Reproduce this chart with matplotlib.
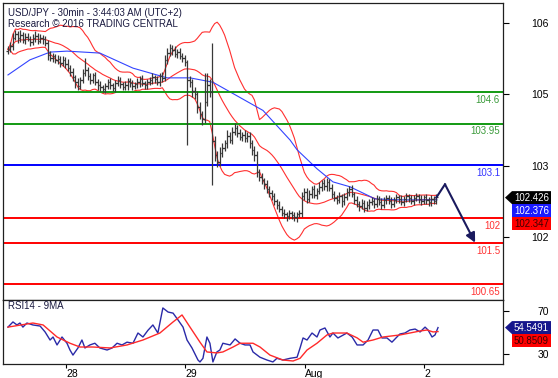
import matplotlib
matplotlib.use('Agg')
import matplotlib.pyplot as plt
from matplotlib.patches import Polygon
from matplotlib.transforms import blended_transform_factory
import numpy as np
import pandas as pd

plt.rcParams['font.family'] = ['Liberation Sans', 'DejaVu Sans']

# 30 min closes, USD/JPY
closes = [
    105.48, 105.55, 105.72, 105.80,
    105.70, 105.78, 105.66, 105.74, 105.69, 105.62, 105.71, 105.76, 105.65, 105.72, 105.68, 105.60,
    105.36,
    105.30, 105.34, 105.25, 105.28, 105.20, 105.26, 105.18, 105.10,
    105.02, 104.90, 104.80, 104.72,
    104.85, 104.98, 105.05,
    104.92, 104.85, 104.95, 104.80, 104.75,
    104.70, 104.66, 104.72, 104.80, 104.74, 104.68, 104.78, 104.84, 104.76, 104.70,
    104.74, 104.82, 104.78, 104.72, 104.76, 104.80, 104.86, 104.78, 104.74, 104.80,
    104.84, 104.90, 104.86, 104.80, 104.92, 104.88,
    105.25, 105.40, 105.50, 105.46, 105.38, 105.42, 105.34, 105.30, 105.22,
    104.85,
    104.80, 104.62, 104.55,
    104.30, 104.15, 104.05,
    104.40, 104.75, 104.60, 103.60,
    103.30, 103.15, 103.35, 103.45,
    103.55, 103.70, 103.62, 103.78,
    103.85,
    103.75, 103.68, 103.72, 103.65, 103.70,
    103.55, 103.40, 103.30,
    102.95,
    102.85, 102.78, 102.70, 102.60, 102.52, 102.45,
    102.35, 102.28, 102.20, 102.12, 102.08, 102.04, 102.10, 102.06, 102.02, 102.08,
    102.10,
    102.45, 102.55, 102.40, 102.50, 102.60, 102.48, 102.56,
    102.65, 102.72, 102.66, 102.75, 102.62,
    102.50, 102.42, 102.38, 102.46, 102.35, 102.44,
    102.55, 102.60, 102.50,
    102.38, 102.30, 102.25, 102.32, 102.22, 102.28, 102.34,
    102.36, 102.30, 102.40, 102.33, 102.28, 102.38, 102.42, 102.35, 102.30, 102.38,
    102.44, 102.40, 102.34, 102.39, 102.45, 102.41, 102.36, 102.42, 102.46, 102.40,
    102.35, 102.43, 102.38, 102.33, 102.40, 102.36, 102.43,
]
first_open = 105.45
# wicks above / below the body, in hundredths of a yen
up_wick = [
    6, 8, 10, 7, 6, 9, 5, 8, 7, 6, 8, 10, 6, 7, 5, 8, 6, 9, 7, 5,
    8, 6, 7, 5, 9, 6, 7, 5, 8, 6, 10, 25, 6, 8, 5, 7, 6, 8, 5, 7,
    6, 8, 5, 7, 9, 6, 5, 8, 7, 6, 7, 5, 8, 6, 9, 5, 7, 6, 8, 5,
    7, 6, 9, 12, 10, 8, 6, 9, 7, 8, 6, 5, 3, 8, 6, 9, 7, 10, 6, 59,
    24, 12, 100, 10, 8, 12, 9, 7, 11, 8, 9, 11, 7, 8, 6, 9, 7, 8, 6, 9,
    8, 7, 9, 6, 8, 7, 6, 8, 5, 7, 6, 8, 5, 7, 6, 8, 5, 7, 10, 8,
    7, 9, 6, 8, 7, 9, 6, 8, 7, 6, 8, 7, 6, 9, 5, 8, 7, 6, 8, 5,
    7, 6, 8, 5, 7, 6, 8, 6, 7, 5, 8, 6, 7, 5, 9, 6, 7, 5, 8, 6,
    7, 5, 8, 6, 7, 5, 8, 6, 7, 5, 8, 6, 7,
]
dn_wick = [
    7, 5, 8, 6, 9, 7, 6, 8, 5, 7, 6, 8, 7, 5, 9, 6, 10, 7, 8, 6,
    7, 9, 6, 8, 7, 10, 8, 12, 9, 6, 7, 6, 8, 9, 7, 6, 10, 8, 7, 9,
    6, 8, 7, 9, 6, 8, 7, 6, 9, 7, 8, 6, 7, 9, 6, 8, 7, 6, 8, 7,
    6, 8, 7, 6, 8, 7, 9, 6, 8, 7, 9, 8, 134, 10, 12, 9, 14, 10, 12, 8,
    9, 10, 91, 12, 10, 8, 9, 7, 10, 8, 9, 7, 8, 6, 9, 7, 8, 10, 9, 12,
    10, 9, 8, 10, 7, 9, 8, 7, 9, 6, 8, 7, 9, 6, 8, 7, 9, 6, 8, 7,
    9, 6, 8, 7, 9, 6, 8, 7, 9, 6, 8, 7, 9, 6, 11, 8, 7, 9, 6, 8,
    7, 9, 6, 8, 7, 9, 6, 8, 7, 6, 8, 7, 9, 6, 8, 7, 6, 9, 7, 8,
    6, 8, 7, 9, 6, 8, 7, 6, 9, 7, 8, 6, 7,
]

# blue moving average (bar index, price)
ma_bar = [0, 8.8, 16.9, 23.7, 36.9, 50.2, 63.9, 73.1, 82.3, 92.0, 102.4, 113.3,
          116.1, 124.1, 130.5, 137.3, 144.2, 147.4, 157.4, 172.3]
ma_val = [104.95, 105.26, 105.42, 105.44, 105.40, 105.09, 104.89, 104.89, 104.80, 104.52,
          104.22, 103.61, 103.41, 103.02, 102.75, 102.65, 102.48, 102.40, 102.38, 102.38]

# RSI14 and its 9MA (bar index, value)
rsi_bar = [0, 2.0, 3.6, 4.8, 6.0, 7.6, 10.0, 12.9, 14.9, 16.9, 18.1, 19.7, 21.7, 23.7,
           24.9, 26.1, 28.1, 29.7, 30.9, 32.9, 34.9, 36.9, 39.8, 41.8, 43.8, 45.8, 47.8,
           50.2, 52.2, 54.2, 56.2, 58.2, 60.2, 62.2, 64.3, 66.3, 68.3, 70.3, 71.9, 73.9,
           76.3, 77.1, 78.3, 79.9, 81.1, 82.3, 83.9, 85.1, 86.3, 89.2, 91.2, 93.2, 95.2,
           97.2, 98.4, 101.2, 104.0, 106.4, 108.0, 110.4, 113.3, 116.1, 117.3, 118.5,
           120.1, 122.1, 124.1, 125.3, 127.3, 129.3, 130.5, 132.5, 136.1, 138.2, 140.2,
           142.6, 144.6, 146.6, 148.6, 150.2, 152.2, 154.2, 156.2, 157.4, 159.4, 161.4,
           163.5, 165.5, 167.5, 168.7, 170.3, 171.5, 172.7]
rsi_val = [55, 59.8, 57, 58.8, 55, 58.8, 57, 56, 50.5, 43, 45.8, 38.4, 45.8, 40,
           33.7, 29, 35.6, 43, 35.6, 38.4, 40, 35.6, 33.7, 35.6, 40, 38.4, 41,
           40, 49.5, 45.8, 52, 57, 49.5, 72.8, 69, 68, 61.6, 55, 43, 35.6,
           24.4, 22.6, 26, 45.8, 40, 22.6, 31.9, 33.7, 40, 38.4, 44, 40, 38.4,
           38.4, 31.9, 27, 24.4, 22.6, 26, 24.4, 26, 27, 35.6, 44.9,
           43, 49.5, 45.8, 52.3, 54.2, 45.8, 49.5, 44.9, 49.5, 45.8, 38.4,
           38.4, 43, 52.3, 52.3, 44.9, 44.9, 41, 45.8, 48.6, 49.5, 52.3,
           53.2, 50.5, 55, 52.3, 45.8, 47.7, 54.55]
rsi_ma_bar = [0, 10.0, 14.1, 19.7, 24.9, 28.9, 34.1, 41.0, 47.8, 54.2, 61.0, 66.3, 69.9,
              73.1, 77.1, 79.9, 83.9, 86.3, 90.4, 93.2, 98.4, 101.2, 105.2, 110.4, 114.5,
              117.3, 120.1, 124.1, 128.1, 130.5, 136.1, 140.2, 142.6, 146.6, 150.6, 157.4,
              161.4, 165.5, 168.3, 170.7, 172.7]
rsi_ma_val = [55, 58.8, 57, 45.8, 40, 36.5, 36.5, 35.6, 38.4, 43, 49.5, 59.8, 66.3,
              55, 41, 31.9, 31, 31.9, 36.5, 40, 40, 36.5, 29, 24.4, 23.5,
              26, 33.7, 40, 47.7, 49.5, 49.5, 45, 41, 43, 45.8, 47.7,
              49.5, 51.4, 52.3, 50.5, 50.85]

resistances = [104.6, 103.95]
pivot = 103.1
supports = [102.0, 101.5, 100.65]
price_ticks = [106.02, 104.55, 103.08, 101.61]
price_tick_labels = ['106', '105', '103', '102']
day_ticks = [23.3, 71.2, 119.1, 167.1]
day_labels = ['28', '29', 'Aug', '2']
forecast_x = [172, 175.5, 187.6]
forecast_y = [102.426, 102.70, 101.5]
price_tags = ['102.426', '102.376', '102.347']
rsi_tags = ['54.5491', '50.8509']
rsi_ticks = [70, 30]

s = pd.Series(closes)
n = len(s)
x = np.arange(n)
opens = np.r_[first_open, s.values[:-1]]
highs = np.maximum(opens, s.values) + np.array(up_wick) / 100
lows = np.minimum(opens, s.values) - np.array(dn_wick) / 100

# bollinger 20 / 2
mid = s.rolling(20, min_periods=1).mean()
sd = s.rolling(20, min_periods=1).std(ddof=0).fillna(0)

W, H = 558, 378
fig = plt.figure(figsize=(W / 100, H / 100), dpi=100)
ax = fig.add_axes([3 / W, 1 - 300 / H, 500 / W, 297 / H])
ax2 = fig.add_axes([3 / W, 1 - 364 / H, 500 / W, 64 / H], sharex=ax)

ax.plot(x, mid + 2 * sd, color='#ff3030', lw=0.8)
ax.plot(x, mid - 2 * sd, color='#ff3030', lw=0.8)
ax.plot(x, mid, color='#ff3030', lw=0.8)
ax.plot(ma_bar, ma_val, color='#3344ff', lw=0.8)

# levels
ytr = blended_transform_factory(ax.transAxes, ax.transData)
for lv in resistances:
    ax.axhline(lv, color='#129a12', lw=1.4)
    ax.text(0.994, lv - 0.06, f'{lv:g}', color='#3a9a3a', fontsize=7, ha='right', va='top', transform=ytr)
ax.axhline(pivot, color='#0000ff', lw=1.4)
ax.text(0.994, pivot - 0.06, f'{pivot:g}', color='#3333ff', fontsize=7, ha='right', va='top', transform=ytr)
for lv in supports:
    ax.axhline(lv, color='#ff0000', lw=1.4)
    ax.text(0.994, lv - 0.06, f'{lv:g}', color='#ff3333', fontsize=7, ha='right', va='top', transform=ytr)

# OHLC bars
ax.vlines(x, lows, highs, color='#383838', lw=0.9)
ax.hlines(opens, x - 0.6, x, color='#383838', lw=0.9)
ax.hlines(s.values, x, x + 0.6, color='#383838', lw=0.9)

# forecast
ax.plot(forecast_x[:2], forecast_y[:2], color='#1a1a5e', lw=1.5)
ax.annotate('', xy=(forecast_x[2], forecast_y[2]), xytext=(forecast_x[1], forecast_y[1]),
            arrowprops=dict(arrowstyle='-|>', color='#1a1a5e', lw=1.5, mutation_scale=14,
                            shrinkA=0, shrinkB=0))

ax.set_xlim(-2.0, 198.8)
ax.set_ylim(100.32, 106.43)
ax.yaxis.tick_right()
ax.set_yticks(price_ticks)
ax.set_yticklabels(price_tick_labels)
ax.tick_params(axis='y', length=4, pad=29, labelsize=7.5, direction='out')
for lab in ax.get_yticklabels():
    lab.set_ha('right')
ax.tick_params(axis='x', bottom=False, labelbottom=False)

# RSI panel
ax2.plot(rsi_bar, rsi_val, color='#2a2aa8', lw=1)
ax2.plot(rsi_ma_bar, rsi_ma_val, color='#ff2a2a', lw=1)
ax2.set_ylim(20.7, 80.2)
ax2.yaxis.tick_right()
ax2.set_yticks(rsi_ticks)
ax2.tick_params(axis='y', length=4, pad=29, labelsize=7.5, direction='out')
for lab in ax2.get_yticklabels():
    lab.set_ha('right')
ax2.set_xticks(day_ticks)
ax2.set_xticklabels(day_labels)
ax2.tick_params(axis='x', length=3, pad=0.5, labelsize=7.5, direction='out')
for lab in ax2.get_xticklabels():
    lab.set_ha('left')

for a in (ax, ax2):
    for sp in a.spines.values():
        sp.set_color('#202020')
        sp.set_linewidth(0.9)


def tag(a, yval, dy, text, fc, tc, arrow=False):
    yc = a.transData.transform((0, yval))[1] + dy
    y0 = fig.transFigure.inverted().transform((0, yc))[1]
    hh = 6.5 / H
    x0, x1 = 512 / W, 551 / W
    pts = [(x0, y0 - hh), (x1, y0 - hh), (x1, y0 + hh), (x0, y0 + hh)]
    if arrow:
        pts = [(505 / W, y0)] + pts
    fig.patches.append(Polygon(pts, closed=True, facecolor=fc, edgecolor='none',
                               transform=fig.transFigure))
    fig.text((x0 + x1) / 2, y0, text, color=tc, fontsize=7, ha='center', va='center')


fig.canvas.draw()
tag(ax, forecast_y[0], 0, price_tags[0], '#000000', 'white', arrow=True)
tag(ax, forecast_y[0], -13, price_tags[1], '#1a1aff', 'white')
tag(ax, forecast_y[0], -26, price_tags[2], '#ff0000', '#400000')
tag(ax2, float(rsi_tags[0]), 0, rsi_tags[0], '#16168c', 'white', arrow=True)
tag(ax2, float(rsi_tags[0]), -13, rsi_tags[1], '#ff0000', '#400000')

fig.text(8 / W, 1 - 13 / H, 'USD/JPY - 30min - 3:44:03 AM (UTC+2)', color='#1a1a40',
         fontsize=7, va='center')
fig.text(8 / W, 1 - 24 / H, 'Research © 2016 TRADING CENTRAL', color='#1a1a40',
         fontsize=7, va='center')
fig.text(8 / W, 1 - 306 / H, 'RSI14 - 9MA', color='#1a1a40', fontsize=7, va='center')

fig.savefig('out.png', dpi=100)
